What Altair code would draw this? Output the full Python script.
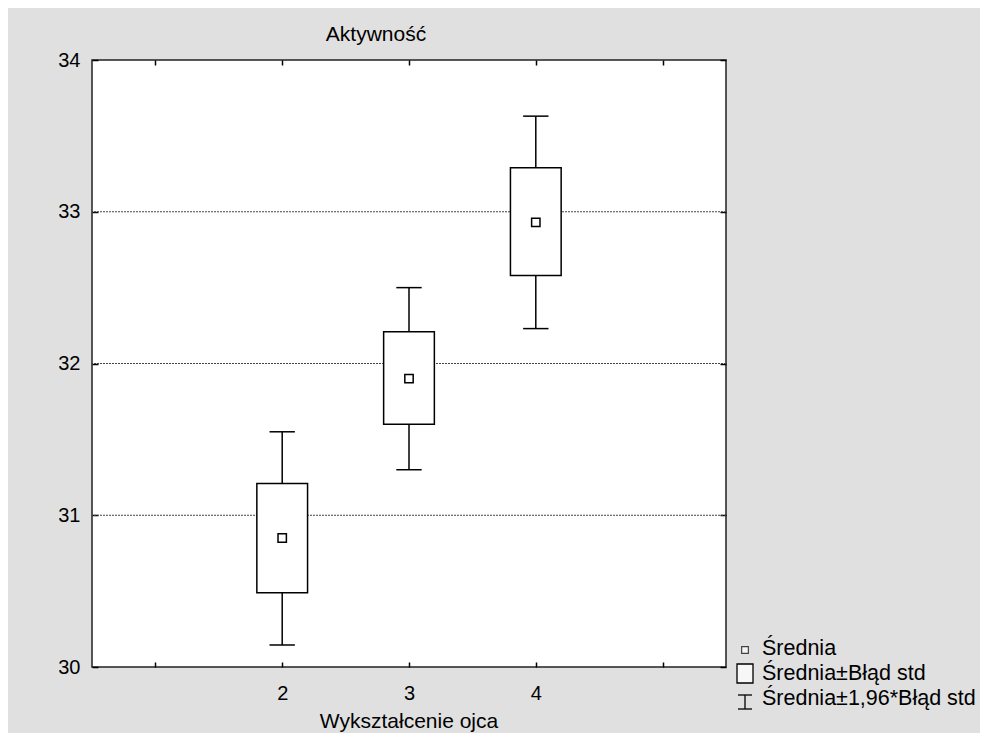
import altair as alt
import pandas as pd

# ---- data ----
groups = [2, 3, 4]
means = [30.85, 31.90, 32.93]
box_lo = [30.49, 31.60, 32.58]
box_hi = [31.21, 32.21, 33.29]
ci_lo = [30.145, 31.30, 32.23]
ci_hi = [31.55, 32.50, 33.63]
x_ticks = [1, 2, 3, 4, 5]
y_ticks = [30, 31, 32, 33, 34]
grid_vals = [31, 32, 33]
legend_labels = ["Średnia", "Średnia±Błąd std", "Średnia±1,96*Błąd std"]
title_text = "Aktywność"
x_title = "Wykształcenie ojca"

FONT = "Liberation Sans"
FS = 21.5
W, H = 634, 607

df = pd.DataFrame({"grp": groups, "mean": means, "box_lo": box_lo, "box_hi": box_hi,
                   "ci_lo": ci_lo, "ci_hi": ci_hi})
grid_df = pd.DataFrame({"g": grid_vals})
one = pd.DataFrame({"k": [0]})

xs = alt.Scale(domain=[0.5, 5.5], nice=False, zero=False)
ys = alt.Scale(domain=[30, 34], nice=False, zero=False)

common_axis = dict(domain=False, grid=False, tickColor="black", tickWidth=1.5,
                   labelFont=FONT, labelFontSize=20, labelColor="black", title=None)

bottom_axis = alt.Axis(orient="bottom", offset=-5, tickSize=5, values=x_ticks,
                       labelExpr="datum.value >= 2 && datum.value <= 4 ? datum.value : ''",
                       labelPadding=16, **common_axis)
top_axis = alt.Axis(orient="top", offset=-5, tickSize=5, values=x_ticks, labels=False,
                    **common_axis)
left_axis = alt.Axis(orient="left", offset=-6, tickSize=6, values=y_ticks, labelPadding=12,
                     **common_axis)
right_axis = alt.Axis(orient="right", offset=-6, tickSize=6, values=y_ticks, labels=False,
                      **common_axis)

grid = alt.Chart(grid_df).mark_rule(color="#444", strokeDash=[2, 1], strokeWidth=1).encode(
    y=alt.Y("g:Q", scale=ys, axis=right_axis)
)

whisk = alt.Chart(df).mark_rule(color="black", strokeWidth=1.5).encode(
    x=alt.X("grp:Q", scale=xs, axis=top_axis),
    y=alt.Y("ci_lo:Q", scale=ys, axis=None),
    y2="ci_hi:Q",
)

cap_lo = alt.Chart(df).transform_calculate(a="datum.grp - 0.1", b="datum.grp + 0.1").mark_rule(
    color="black", strokeWidth=1.5).encode(
    x=alt.X("a:Q", scale=xs, axis=None), x2="b:Q",
    y=alt.Y("ci_lo:Q", scale=ys, axis=None),
)
cap_hi = alt.Chart(df).transform_calculate(a="datum.grp - 0.1", b="datum.grp + 0.1").mark_rule(
    color="black", strokeWidth=1.5).encode(
    x=alt.X("a:Q", scale=xs, axis=None), x2="b:Q",
    y=alt.Y("ci_hi:Q", scale=ys, axis=None),
)

boxes = alt.Chart(df).transform_calculate(a="datum.grp - 0.2", b="datum.grp + 0.2").mark_rect(
    fill="white", stroke="black", strokeWidth=1.5).encode(
    x=alt.X("a:Q", scale=xs, axis=bottom_axis), x2="b:Q",
    y=alt.Y("box_lo:Q", scale=ys, axis=left_axis), y2="box_hi:Q",
)

mean_pts = alt.Chart(df).mark_square(size=70, fill="white", stroke="black", strokeWidth=1.5,
                                     opacity=1, filled=False).encode(
    x=alt.X("grp:Q", scale=xs, axis=None),
    y=alt.Y("mean:Q", scale=ys, axis=None),
)

# ---- titles ----
title_mark = alt.Chart(one).mark_text(text=title_text, align="center", baseline="alphabetic",
                                      font=FONT, fontSize=21, color="black").encode(
    x=alt.value(284), y=alt.value(-19))
xtitle_mark = alt.Chart(one).mark_text(text=x_title, align="center", baseline="alphabetic",
                                       font=FONT, fontSize=21, color="black").encode(
    x=alt.value(317), y=alt.value(668))

# ---- legend (drawn outside the plot area, bottom right) ----
lg_sq = alt.Chart(one).mark_square(size=45, fill="white", stroke="black", strokeWidth=1.2,
                                   filled=False).encode(x=alt.value(653), y=alt.value(590))
lg_box = alt.Chart(one).mark_rect(fill="#f7f7f7", stroke="black", strokeWidth=1.3).encode(
    x=alt.value(645), x2=alt.value(661), y=alt.value(604), y2=alt.value(623))
lg_v = alt.Chart(one).mark_rule(color="black", strokeWidth=1.3).encode(
    x=alt.value(653), y=alt.value(635), y2=alt.value(649))
lg_c1 = alt.Chart(one).mark_rule(color="black", strokeWidth=1.3).encode(
    x=alt.value(646), x2=alt.value(660), y=alt.value(635))
lg_c2 = alt.Chart(one).mark_rule(color="black", strokeWidth=1.3).encode(
    x=alt.value(646), x2=alt.value(660), y=alt.value(649))
lg_texts = []
for lbl, yy in zip(legend_labels, [589, 614, 639]):
    lg_texts.append(
        alt.Chart(one).mark_text(text=lbl, align="left", baseline="middle", font=FONT,
                                 fontSize=FS, color="black").encode(
            x=alt.value(670), y=alt.value(yy))
    )

chart = alt.layer(grid, whisk, cap_lo, cap_hi, boxes, mean_pts, title_mark, xtitle_mark,
                  lg_sq, lg_box, lg_v, lg_c1, lg_c2, *lg_texts).resolve_axis(
    x="independent", y="independent"
).properties(
    width=W, height=H,
    autosize="none",
    padding={"left": 84, "top": 52, "right": 254, "bottom": 66},
    background="#e0e0e0",
).configure_view(stroke="#222", strokeWidth=1.5, fill="white")

chart.save("out.html", embed_options={"renderer": "svg", "actions": False})
